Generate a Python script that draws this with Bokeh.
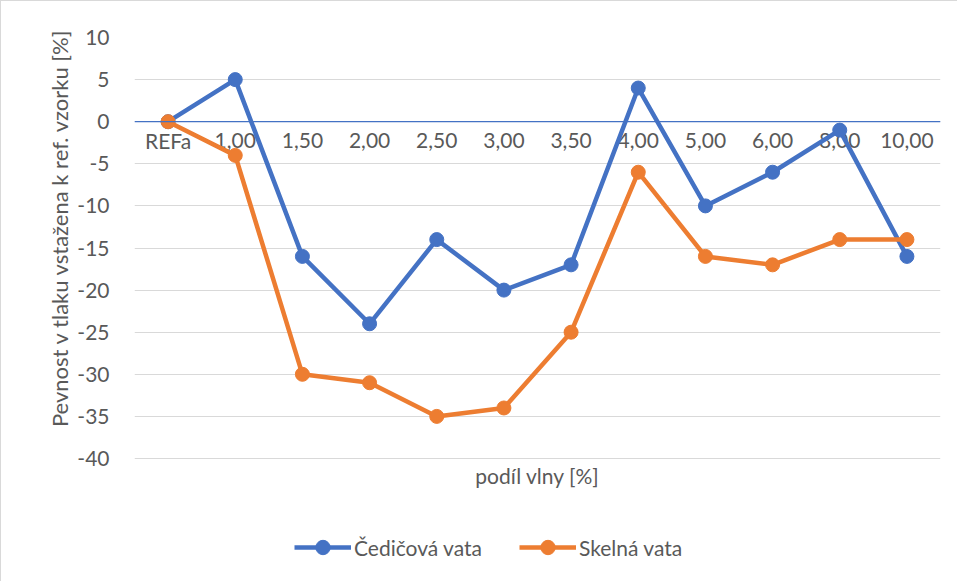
from bokeh.plotting import figure
from bokeh.models import Span, Legend, LegendItem, FactorRange, ColumnDataSource, Title, Label
from bokeh.core.properties import value
from bokeh.embed import file_html
from bokeh.resources import INLINE

categories = ["REFa", "1,00", "1,50", "2,00", "2,50", "3,00", "3,50", "4,00", "5,00", "6,00", "8,00", "10,00"]
cedicova = [0, 5, -16, -24, -14, -20, -17, 4, -10, -6, -1, -16]
skelna = [0, -4, -30, -31, -35, -34, -25, -6, -16, -17, -14, -14]
y_ticks = [10, 5, 0, -5, -10, -15, -20, -25, -30, -35, -40]

FONT = "Lato"
TXT = "#595959"
BLUE = "#4472C4"
ORANGE = "#ED7D31"

W, H = 957, 581
TOP, LEFT, RIGHT = 36, 133, 18
AXIS_BOTTOM_PX = 457            # pixel row of the -40 gridline
px_per_unit = (AXIS_BOTTOM_PX - TOP) / (max(y_ticks) - min(y_ticks))
y_start = min(y_ticks) - (H - AXIS_BOTTOM_PX) / px_per_unit

p = figure(width=W, height=H, x_range=FactorRange(*categories), y_range=(y_start, max(y_ticks)),
           output_backend="svg", toolbar_location=None,
           min_border_left=LEFT, min_border_right=RIGHT, min_border_top=TOP, min_border_bottom=0)
p.styles = {"border-left": "1px solid #D9D9D9", "border-top": "1px solid #D9D9D9"}
p.outline_line_color = None
p.background_fill_color = "white"
p.border_fill_color = "white"

p.xgrid.grid_line_color = None
p.ygrid.grid_line_color = "#D9D9D9"
p.ygrid.grid_line_width = 1
p.yaxis.ticker = y_ticks
p.yaxis.major_label_overrides = {t: str(t) for t in y_ticks}
p.yaxis.axis_line_color = None
p.yaxis.major_tick_line_color = None
p.yaxis.minor_tick_line_color = None
p.yaxis.major_label_text_font = FONT
p.yaxis.major_label_text_font_size = "21px"
p.yaxis.major_label_text_color = TXT
p.yaxis.major_label_standoff = 19
p.xaxis.visible = False

ytitle = Title(text="Pevnost v tlaku vstažena k ref. vzorku [%]", align="right", offset=-9,
               text_font=FONT, text_font_size="22px", text_font_style="normal",
               text_color=TXT, standoff=3)
p.add_layout(ytitle, "left")

p.add_layout(Span(location=0, dimension="width", line_color=BLUE, line_width=1.2))

lab_src = ColumnDataSource(dict(x=categories, y=[0] * len(categories), t=categories))
p.text(x="x", y="y", text="t", source=lab_src, text_font=value(FONT), text_font_size="21px",
       text_color=TXT, text_align="center", text_baseline="middle", y_offset=19)

src = ColumnDataSource(dict(x=categories, c=cedicova, s=skelna))
l1 = p.line("x", "c", source=src, line_color=BLUE, line_width=4.5, line_join="round")
m1 = p.scatter("x", "c", source=src, size=14, fill_color=BLUE, line_color=BLUE)
l2 = p.line("x", "s", source=src, line_color=ORANGE, line_width=4.5, line_join="round")
m2 = p.scatter("x", "s", source=src, size=14, fill_color=ORANGE, line_color=ORANGE)

xtitle = Label(x=len(categories) / 2, y=min(y_ticks) - 17 / px_per_unit, text="podíl vlny [%]",
               text_align="center", text_baseline="middle", text_font=FONT,
               text_font_size="21px", text_color=TXT)
p.add_layout(xtitle)

legend = Legend(items=[LegendItem(label="Čedičová vata", renderers=[l1, m1]),
                       LegendItem(label="Skelná vata", renderers=[l2, m2])],
                orientation="horizontal", location=(160, 17),
                label_text_font=FONT, label_text_font_size="21px", label_text_color=TXT,
                glyph_width=57, glyph_height=36, label_standoff=3, spacing=30, label_width=135,
                padding=5, border_line_color=None, background_fill_alpha=0)
p.add_layout(legend)

open("out.html", "w").write(file_html(p, INLINE))
